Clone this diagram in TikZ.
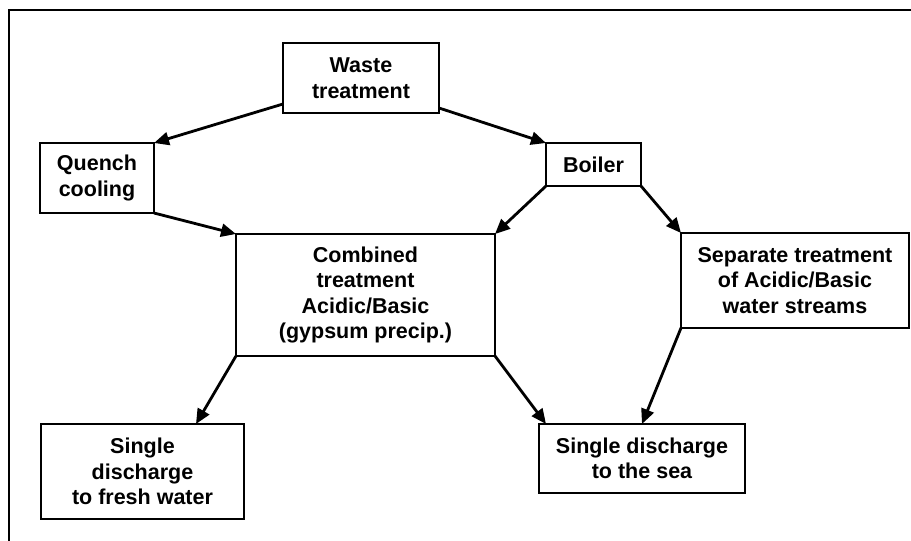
\documentclass[tikz,border=0pt]{standalone}
\usepackage{fontspec}
\setmainfont{Liberation Sans}
\usetikzlibrary{arrows.meta}
\tikzset{
  box/.style={draw, line width=1.1pt, align=center, inner sep=0pt, outer sep=0pt,
    font={\fontsize{21.5}{25.5}\selectfont\bfseries}},
  flow/.style={line width=2.8pt, -{Triangle[length=15pt,width=13pt]}},
}
\begin{document}
\begin{tikzpicture}[x=1pt,y=-1pt]
\useasboundingbox (0,0) rectangle (911,541);
\draw[line width=2pt] (9,541) -- (9,10) -- (911,10);
\node[box, minimum width=156pt, minimum height=70pt] (w) at (361,78) {Waste\\treatment};
\node[box, minimum width=114pt, minimum height=70pt] (q) at (97,178) {Quench\\cooling};
\node[box, minimum width=95pt, minimum height=43pt] (b) at (593.5,164.5) {Boiler};
\node[box, minimum width=259pt, minimum height=122pt] (c) at (365.5,295) {Combined\\treatment\\Acidic/Basic\\(gypsum precip.)};
\node[box, minimum width=228pt, minimum height=95pt] (s) at (795,280.5) {Separate treatment\\of Acidic/Basic\\water streams};
\node[box, minimum width=203pt, minimum height=95pt] (f) at (142.5,471.5) {Single\\discharge\\to fresh water};
\node[box, minimum width=206pt, minimum height=69pt] (sea) at (642,458.5) {Single discharge\\to the sea};
\draw[flow] ([yshift=9pt]w.south west) -- (q.north east);
\draw[flow] ([yshift=5pt]w.south east) -- (b.north west);
\draw[flow] (q.south east) -- (c.north west);
\draw[flow] (b.south west) -- (c.north east);
\draw[flow] (b.south east) -- (s.north west);
\draw[flow] (c.south west) -- ([xshift=53.5pt]f.north);
\draw[flow] (c.south east) -- ([xshift=7pt]sea.north west);
\draw[flow] (s.south west) -- (sea.north);
\end{tikzpicture}
\end{document}
